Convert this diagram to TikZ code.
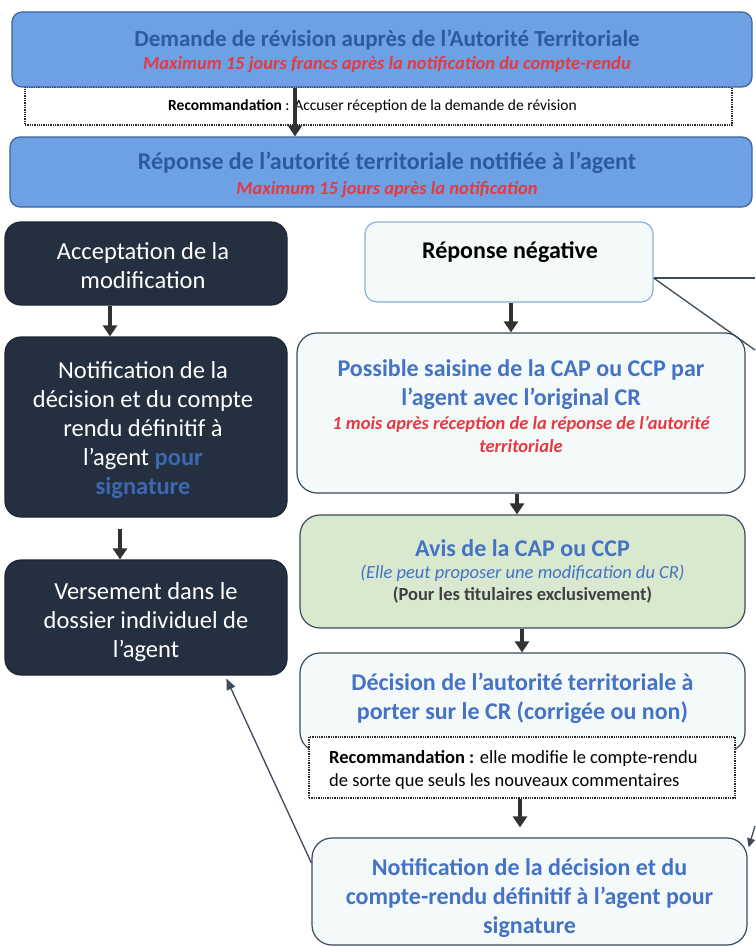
\documentclass[tikz,border=0pt]{standalone}
\usepackage{fontspec}
\setmainfont{Carlito}
\usetikzlibrary{arrows.meta,calc}
\definecolor{topfill}{RGB}{110,160,228}
\definecolor{topdraw}{RGB}{60,100,160}
\definecolor{toptext}{RGB}{44,90,160}
\definecolor{redtxt}{RGB}{232,56,64}
\definecolor{darkfill}{RGB}{36,48,64}
\definecolor{lightfill}{RGB}{244,249,250}
\definecolor{lightdraw}{RGB}{60,74,92}
\definecolor{negdraw}{RGB}{140,175,220}
\definecolor{greenfill}{RGB}{216,233,208}
\definecolor{bluetxt}{RGB}{68,114,196}
\definecolor{arrcol}{RGB}{50,50,50}
\newcommand\redline[1]{{\fontsize{18.5}{20}\selectfont\bfseries\itshape\color{redtxt}#1}}
\newcommand\redlineb[1]{{\fontsize{18.5}{23}\selectfont\bfseries\itshape\color{redtxt}#1}}
\begin{document}
\begin{tikzpicture}[x=1pt,y=-1pt,
  box/.style={rectangle,rounded corners=#1,inner sep=0pt,line width=1.2pt},
  box/.default=12pt,
  topbox/.style={box=10pt,draw=topdraw,fill=topfill},
  darkbox/.style={box=16pt,draw=darkfill!80!black,fill=darkfill},
  lightbox/.style={box=20pt,draw=lightdraw,fill=lightfill},
  dotbox/.style={rectangle,draw=black!85,densely dotted,line width=1.3pt,fill=white,inner sep=0pt},
  txt/.style={align=center,inner sep=0pt},
  big/.style={font=\fontsize{24.5}{29}\selectfont},
  bigb/.style={font=\fontsize{24}{29}\selectfont\bfseries},
  arr/.style={draw=arrcol,line width=3.8pt,-{Triangle[width=14pt,length=11pt]}},
  thin/.style={draw=lightdraw,line width=1.3pt},
]
\useasboundingbox (0,0) rectangle (755,947);
\fill[white] (0,0) rectangle (755,947);

% top section
\node[dotbox,minimum width=707pt,minimum height=38pt] (dot1) at (378.5,106) {};
\node[topbox,minimum width=740pt,minimum height=75pt] (box1) at (382,49.5) {};
\node[txt,font=\fontsize{23}{24}\selectfont\bfseries,text=toptext] (t1) at (387,51) {Demande de révision auprès de l’Autorité Territoriale\\[-1pt]
  \redline{Maximum 15 jours francs après la notification du compte-rendu}};
\node[txt,anchor=west,font=\fontsize{15.5}{17}\selectfont] (t2) at (168,106) {\textbf{Recommandation} : Accuser réception de la demande de révision};
\node[topbox,minimum width=742pt,minimum height=70pt] (box2) at (381,172) {};
\node[txt,font=\fontsize{24}{24}\selectfont\bfseries,text=toptext] (t3) at (387,175) {Réponse de l’autorité territoriale notifiée à l’agent\\[1pt]
  \redline{Maximum 15 jours après la notification}};
\draw[arr] (box1.south -| 295,0) -- (box2.north -| 295,0);

% left column
\node[darkbox,minimum width=282pt,minimum height=83pt] (acc) at (146,263.5) {};
\node[txt,big,text=white] (tacc) at (143,266) {Acceptation de la\\modification};
\node[darkbox,minimum width=282pt,minimum height=180pt] (notL) at (146,427) {};
\node[txt,big,text=white] (tnotL) at (143,430) {Notification de la\\décision et du compte\\rendu définitif à\\l’agent \textcolor{bluetxt!90!black}{\bfseries pour}\\\textcolor{bluetxt!90!black}{\bfseries signature}};
\node[darkbox,minimum width=282pt,minimum height=115pt] (vers) at (146,617.5) {};
\node[txt,big,text=white] (tvers) at (146,622) {Versement dans le\\dossier individuel de\\l’agent};
\draw[arr] (acc.south -| 110,0) -- (notL.north -| 110,0);
\draw[arr] ([yshift=-11pt]notL.south -| 120,0) -- (vers.north -| 120,0);

% right column
\node[box=12pt,draw=negdraw,fill=lightfill,minimum width=288pt,minimum height=80pt] (neg) at (509,262) {};
\node[txt,font=\fontsize{24}{24}\selectfont\bfseries] (tneg) at (510,252) {Réponse négative};
\node[lightbox,minimum width=448pt,minimum height=160pt] (sais) at (521,413) {};
\node[txt,bigb,text=bluetxt] (tsais) at (521,406) {Possible saisine de la CAP ou CCP par\\l’agent avec l’original CR\\[-5pt]
  \redlineb{1 mois après réception de la réponse de l’autorité}\\[-6pt]\redlineb{territoriale}};
\node[lightbox,fill=greenfill,minimum width=445pt,minimum height=113pt] (avis) at (522.5,571.5) {};
\node[txt,font=\fontsize{24}{25}\selectfont\bfseries,text=bluetxt] (tavis) at (522.5,571) {Avis de la CAP ou CCP\\[-3pt]
  {\fontsize{18.5}{23}\selectfont\mdseries\itshape(Elle peut proposer une modification du CR)}\\[-3pt]
  {\fontsize{18.5}{23}\selectfont\color{black!75}(Pour les titulaires exclusivement)}};
\node[lightbox,minimum width=445pt,minimum height=99pt] (dec) at (522.5,702.5) {};
\node[txt,bigb,text=bluetxt] (tdec) at (522.5,698) {Décision de l’autorité territoriale à\\porter sur le CR (corrigée ou non)};
\node[dotbox,minimum width=426pt,minimum height=61pt] (dot2) at (522,767.5) {};
\node[txt,align=left,anchor=west,font=\fontsize{18.5}{23}\selectfont] (tdot2) at (329,770) {\textbf{Recommandation :} elle modifie le compte-rendu\\de sorte que seuls les nouveaux commentaires};
\node[lightbox,minimum width=435pt,minimum height=107pt] (notR) at (529.5,891.5) {};
\node[txt,bigb,text=bluetxt] (tnotR) at (529.5,898) {Notification de la décision et du\\compte-rendu définitif à l’agent pour\\signature};

\draw[arr] (neg.south -| 511,0) -- (sais.north -| 511,0);
\draw[arr] (sais.south -| 517,0) -- (avis.north -| 517,0);
\draw[arr] (avis.south -| 522,0) -- (dec.north -| 522,0);
\draw[arr] (dot2.south -| 520,0) -- ([yshift=10pt]notR.north -| 520,0);

% side connectors
\coordinate (c1) at (755,278);
\coordinate (c2) at (755,350);
\coordinate (c3) at (755,826);
\draw[thin] (neg.east |- c1) -- (c1);
\draw[thin] (neg.east |- c1) -- (c2);
\draw[thin,-{Triangle[width=8pt,length=9pt]}] (c3) -- ([xshift=1pt,yshift=-10pt]notR.north east);
\draw[thin,-{Triangle[width=9pt,length=11pt]}] (notR.west |- 0,863) -- ($(vers.south west)+(222,3)$);
\end{tikzpicture}
\end{document}
